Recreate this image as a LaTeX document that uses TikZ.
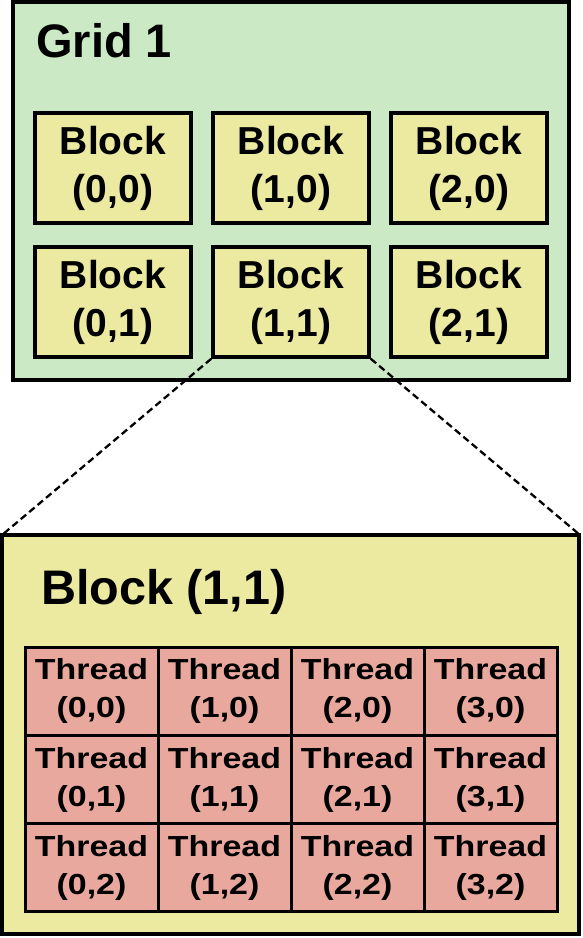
\documentclass[tikz,border=0pt]{standalone}
\usepackage{fontspec}
\setmainfont{Liberation Sans}
\definecolor{gridgreen}{RGB}{202,233,196}
\definecolor{blkyellow}{RGB}{236,233,160}
\definecolor{thrsalmon}{RGB}{233,168,158}
\newcommand\tlab[1]{\scalebox{1.17}[1]{#1}}
\begin{document}
\begin{tikzpicture}[x=1pt,y=-1pt,
  gridbox/.style={draw=black,fill=gridgreen,line width=4pt,rectangle,inner sep=0pt,minimum width=556pt,minimum height=378pt},
  bigbox/.style={draw=black,fill=blkyellow,line width=4pt,rectangle,inner sep=0pt,minimum width=577pt,minimum height=399pt},
  blk/.style={draw=black,fill=blkyellow,line width=3.5pt,rectangle,inner sep=0pt,minimum width=156pt,minimum height=110pt,align=center,font=\bfseries\fontsize{39pt}{48pt}\selectfont},
  thr/.style={draw=black,fill=thrsalmon,line width=3pt,rectangle,inner sep=0pt,minimum width=133pt,minimum height=88.3pt,align=center,font=\bfseries\fontsize{29pt}{38pt}\selectfont},
  title/.style={anchor=base west,inner sep=0pt,font=\bfseries\fontsize{47pt}{52pt}\selectfont},
  dashline/.style={draw=black,line width=2.3pt,dash pattern=on 7pt off 4pt}
]
\useasboundingbox (0,0) rectangle (582,938);
% grid
\node[gridbox] (grid) at (291,191) {};
\node[title] (gtitle) at (36,57) {Grid 1};
\node[blk] (b00) at (113,168) {Block\\(0,0)};
\node[blk] (b10) at (291,168) {Block\\(1,0)};
\node[blk] (b20) at (469,168) {Block\\(2,0)};
\node[blk] (b01) at (113,302) {Block\\(0,1)};
\node[blk] (b11) at (291,302) {Block\\(1,1)};
\node[blk] (b21) at (469,302) {Block\\(2,1)};
% zoom lines
\coordinate (zl) at (2,535);
\coordinate (zr) at (580,535);
\draw[dashline] (b11.south west) -- (zl);
\draw[dashline] (b11.south east) -- (zr);
% big block
\node[bigbox] (big) at (290.5,734.5) {};
\node[title,font=\bfseries\fontsize{48.5pt}{52pt}\selectfont] (btitle) at (41,604) {Block (1,1)};
\foreach \i in {0,1,2,3}{
  \foreach \j in {0,1,2}{
    \node[thr] (t\i\j) at ({25+133*(\i+0.5)},{647+88.33*(\j+0.5)}) {\tlab{Thread}\\\tlab{(\i,\j)}};
  }
}
\end{tikzpicture}
\end{document}
